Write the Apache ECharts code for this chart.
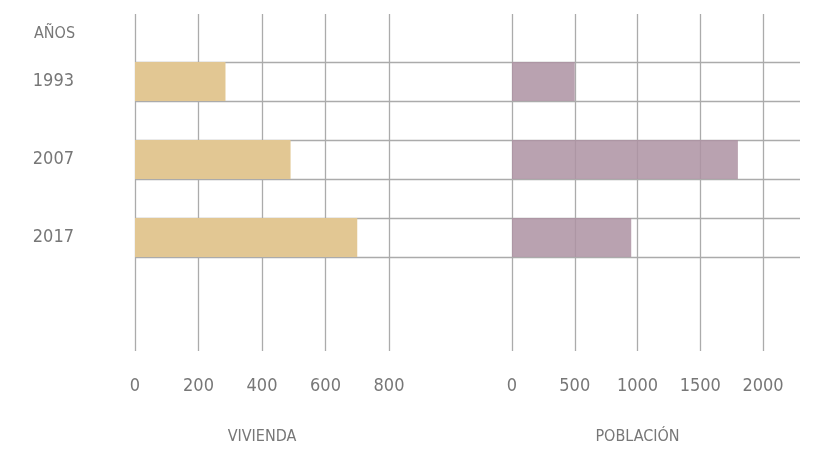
<!DOCTYPE html>
<html><head><meta charset="utf-8">
<script src="https://cdn.jsdelivr.net/npm/echarts@6/dist/echarts.min.js"></script>
<style>html,body{margin:0;padding:0;background:#fff}#c{width:817px;height:450px}</style>
</head><body><div id="c"></div>
<script>
// ---- data ----
const years = ['1993', '2007', '2017'];
const vivienda = [285, 490, 700];
const poblacion = [500, 1800, 950];
const viviendaAxis = [0, 800, 200];     // min, max, interval
const poblacionAxis = [0, 2000, 500];   // min, max, interval
const yearHeader = 'AÑOS';
const panelNames = ['VIVIENDA', 'POBLACIÓN'];

// ---- build slot categories (each year followed by an empty gap slot) ----
const slots = [];
const vivSlots = [];
const pobSlots = [];
years.forEach((y, i) => {
  slots.push(y); vivSlots.push(vivienda[i]); pobSlots.push(poblacion[i]);
  if (i < years.length - 1) { slots.push(' '.repeat(i + 1)); vivSlots.push(null); pobSlots.push(null); }
});

const FONT = "'Liberation Sans Narrow', 'DejaVu Sans Condensed', sans-serif";
const TXT = '#777777';
const LINE = '#ababab';
const plain = v => String(v);

const chart = echarts.init(document.getElementById('c'));
chart.setOption({
  backgroundColor: '#fff',
  animation: false,
  title: {
    text: yearHeader, left: 29, top: 21,
    textStyle: { fontFamily: FONT, fontSize: 16, fontWeight: 'normal', color: TXT }
  },
  grid: [
    { left: 135, width: 665, top: 62, height: 195 },   // 0 horizontal lines
    { left: 135, width: 254, top: 14, height: 338 },   // 1 vivienda verticals
    { left: 135, width: 254, top: 62, height: 195 },   // 2 vivienda bars
    { left: 512, width: 251, top: 14, height: 338 },   // 3 poblacion verticals
    { left: 512, width: 251, top: 62, height: 195 }    // 4 poblacion bars
  ],
  xAxis: [
    { gridIndex: 0, type: 'value', show: false },
    { gridIndex: 1, type: 'value', min: viviendaAxis[0], max: viviendaAxis[1], interval: viviendaAxis[2],
      axisLine: { show: false }, axisTick: { show: false },
      splitLine: { show: true, lineStyle: { color: LINE, width: 1.3 } },
      axisLabel: { margin: 26, formatter: plain, fontFamily: FONT, fontSize: 18, color: TXT },
      name: panelNames[0], nameLocation: 'middle', nameGap: 78,
      nameTextStyle: { fontFamily: FONT, fontSize: 16, color: TXT } },
    { gridIndex: 2, type: 'value', min: viviendaAxis[0], max: viviendaAxis[1], show: false },
    { gridIndex: 3, type: 'value', min: poblacionAxis[0], max: poblacionAxis[1], interval: poblacionAxis[2],
      axisLine: { show: false }, axisTick: { show: false },
      splitLine: { show: true, lineStyle: { color: LINE, width: 1.3 } },
      axisLabel: { margin: 26, formatter: plain, fontFamily: FONT, fontSize: 18, color: TXT },
      name: panelNames[1], nameLocation: 'middle', nameGap: 78,
      nameTextStyle: { fontFamily: FONT, fontSize: 16, color: TXT } },
    { gridIndex: 4, type: 'value', min: poblacionAxis[0], max: poblacionAxis[1], show: false }
  ],
  yAxis: [
    { gridIndex: 0, type: 'category', data: slots, inverse: true,
      axisLine: { show: false }, axisTick: { show: false }, axisLabel: { show: false },
      splitLine: { show: true, lineStyle: { color: LINE, width: 1.3 } } },
    { gridIndex: 1, type: 'value', show: false },
    { gridIndex: 2, type: 'category', data: slots, inverse: true,
      axisLine: { show: false }, axisTick: { show: false }, splitLine: { show: false },
      axisLabel: { interval: 0, margin: 61, fontFamily: FONT, fontSize: 18, color: TXT } },
    { gridIndex: 3, type: 'value', show: false },
    { gridIndex: 4, type: 'category', data: slots, inverse: true, show: false }
  ],
  series: [
    { type: 'bar', xAxisIndex: 2, yAxisIndex: 2, data: vivSlots, barWidth: '100%',
      itemStyle: { color: '#e2c793' }, z: 3 },
    { type: 'bar', xAxisIndex: 4, yAxisIndex: 4, data: pobSlots, barWidth: '100%',
      itemStyle: { color: '#ad92a2', opacity: 0.85 }, z: 3 }
  ]
});
</script></body></html>
